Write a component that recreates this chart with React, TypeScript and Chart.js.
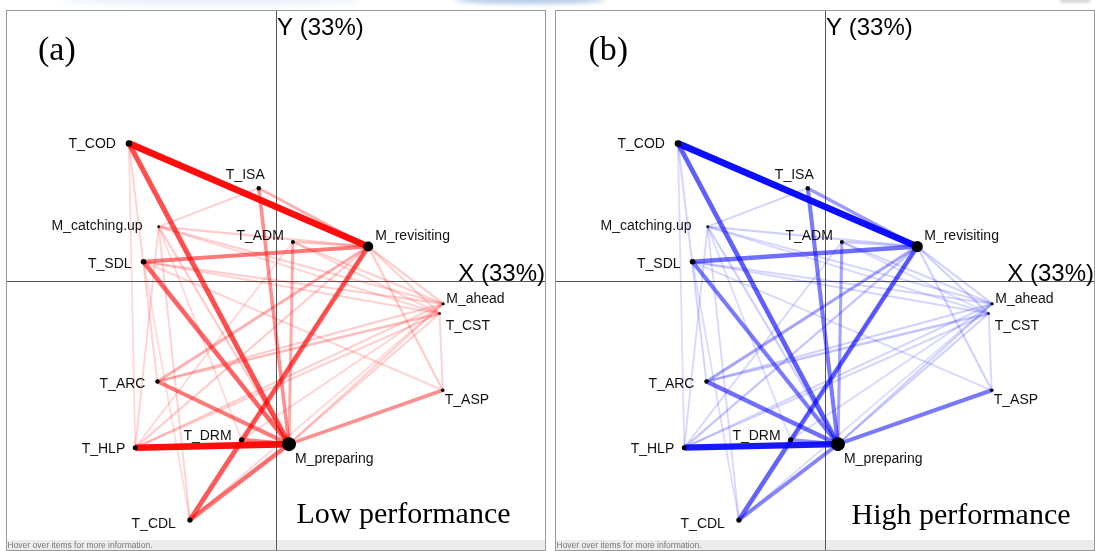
import React, { useEffect, useRef } from "react";
import { Chart, registerables } from "chart.js";

Chart.register(...registerables);

// ---------- DATA ----------
const nodeNames = [
  "T_COD", "T_ISA", "M_catching.up", "T_ADM", "M_revisiting", "T_SDL", "M_ahead",
  "T_CST", "T_ARC", "T_ASP", "T_DRM", "M_preparing", "T_HLP", "T_CDL",
];
const nodeX = [-1.505, -0.172, -1.2, 0.178, 0.952, -1.355, 1.722, 1.685, -1.212, 1.717, -0.348, 0.138, -1.44, -0.879];
const nodeY = [1.41, 0.95, 0.557, 0.4, 0.353, 0.197, -0.233, -0.333, -1.03, -1.12, -1.627, -1.672, -1.708, -2.45];
const nodeWeightLow = [3.2, 2.2, 1.3, 2, 5, 2.8, 1.5, 1.3, 2.2, 1.8, 2.6, 7, 2.5, 2.6];
const nodeWeightHigh = [3.2, 2.2, 1.3, 2, 5.6, 2.8, 1.5, 1.3, 2.2, 1.8, 2.6, 7, 2.5, 2.6];

const edgeFrom = [
  "T_COD", "T_HLP", "T_COD", "M_revisiting", "T_SDL", "T_DRM", "T_SDL", "T_CDL", "T_ARC", "T_ASP",
  "T_ISA", "T_ISA", "T_ADM", "T_ADM", "T_ARC", "T_ARC", "T_ARC", "M_catching.up", "M_catching.up", "M_catching.up",
  "M_catching.up", "M_catching.up", "M_catching.up", "M_catching.up", "M_catching.up", "T_COD", "T_COD", "T_SDL", "T_SDL", "T_SDL",
  "T_SDL", "T_ADM", "T_ADM", "M_revisiting", "M_revisiting", "M_revisiting", "M_revisiting", "M_revisiting", "T_HLP", "T_HLP",
  "T_HLP", "T_DRM", "M_preparing", "M_preparing", "T_CDL", "T_ASP",
];
const edgeTo = [
  "M_revisiting", "M_preparing", "M_preparing", "T_CDL", "M_preparing", "M_preparing", "M_revisiting", "M_preparing", "M_preparing", "M_preparing",
  "M_preparing", "M_revisiting", "M_preparing", "M_revisiting", "M_revisiting", "T_CST", "M_ahead", "T_ISA", "M_revisiting", "M_ahead",
  "T_CST", "M_preparing", "T_HLP", "T_CDL", "T_DRM", "T_ARC", "T_HLP", "M_ahead", "T_CST", "T_ASP",
  "T_CDL", "M_ahead", "T_CST", "M_ahead", "T_CST", "T_ASP", "T_HLP", "T_DRM", "M_ahead", "T_CST",
  "T_ADM", "M_ahead", "M_ahead", "T_CST", "M_ahead", "T_CST",
];
const edgeWeightLow = [
  1.0, 1.0, 0.7, 0.65, 0.6, 0.5, 0.5, 0.55, 0.5, 0.4,
  0.4, 0.25, 0.28, 0.15, 0.25, 0.18, 0.12, 0.1, 0.12, 0.1,
  0.08, 0.12, 0.08, 0.08, 0.06, 0.08, 0.06, 0.12, 0.1, 0.08,
  0.05, 0.1, 0.08, 0.12, 0.1, 0.12, 0.12, 0.1, 0.1, 0.1,
  0.06, 0.08, 0.1, 0.1, 0.06, 0.08,
];
const edgeWeightHigh = [
  1.0, 0.95, 0.62, 0.6, 0.5, 0.4, 0.55, 0.45, 0.55, 0.5,
  0.5, 0.35, 0.3, 0.12, 0.3, 0.15, 0.1, 0.08, 0.1, 0.08,
  0.06, 0.1, 0.06, 0.06, 0.05, 0.08, 0.05, 0.08, 0.08, 0.06,
  0.05, 0.08, 0.06, 0.1, 0.1, 0.1, 0.15, 0.1, 0.08, 0.08,
  0.06, 0.06, 0.1, 0.1, 0.05, 0.06,
];

const axisLabelX = "X (33%)";
const axisLabelY = "Y (33%)";
const hoverText = "Hover over items for more information.";

// ---------- STYLE ----------
const W = 540;
const H = 541;
const SANS = '"Liberation Sans", Arial, Helvetica, sans-serif';
const SERIF = '"Liberation Serif", "Times New Roman", serif';

const labelPlacement: Record<string, { align: CanvasTextAlign; dx: number; dy: number }> = {
  "T_COD": { align: "right", dx: -13, dy: 5 },
  "T_ISA": { align: "right", dx: 6, dy: -9 },
  "M_catching.up": { align: "right", dx: -16, dy: 3 },
  "T_ADM": { align: "right", dx: -9, dy: -2 },
  "M_revisiting": { align: "left", dx: 7, dy: -7 },
  "T_SDL": { align: "right", dx: -12, dy: 6 },
  "M_ahead": { align: "left", dx: 3, dy: -1 },
  "T_CST": { align: "left", dx: 6, dy: 17 },
  "T_ARC": { align: "right", dx: -12, dy: 6 },
  "T_ASP": { align: "left", dx: 2, dy: 14 },
  "T_DRM": { align: "right", dx: -10, dy: 0 },
  "M_preparing": { align: "left", dx: 6, dy: 19 },
  "T_HLP": { align: "right", dx: -10, dy: 5 },
  "T_CDL": { align: "right", dx: -14, dy: 8 },
};

type PanelCfg = {
  tag: string;
  tagX: number;
  title: string;
  titleX: number;
  titleY: number;
  rgb: string;
  edgeWeights: number[];
  nodeWeights: number[];
};

function idx(name: string) {
  return nodeNames.indexOf(name);
}

function buildChart(canvas: HTMLCanvasElement, cfg: PanelCfg) {
  const edges = edgeFrom.map((f, i) => ({ f, t: edgeTo[i], w: cfg.edgeWeights[i] }));
  // heaviest first -> drawn on top (Chart.js draws first dataset last)
  edges.sort((a, b) => b.w - a.w);

  const edgeSets = edges.map((e) => {
    const a = idx(e.f);
    const b = idx(e.t);
    return {
      type: "scatter" as const,
      data: [
        { x: nodeX[a], y: nodeY[a] },
        { x: nodeX[b], y: nodeY[b] },
      ],
      showLine: true,
      borderColor: `rgba(${cfg.rgb},${(0.1 + 0.85 * e.w).toFixed(3)})`,
      borderWidth: 1.6 + 5 * e.w,
      borderCapStyle: "butt" as const,
      pointRadius: 0,
      pointHoverRadius: 0,
      fill: false,
    };
  });

  const nodeSet = {
    type: "scatter" as const,
    data: nodeNames.map((_, i) => ({ x: nodeX[i], y: nodeY[i] })),
    pointRadius: cfg.nodeWeights,
    pointHoverRadius: cfg.nodeWeights,
    pointBackgroundColor: "#000",
    pointBorderWidth: 0,
    showLine: false,
  };

  const overlay = {
    id: "enaOverlay",
    beforeDatasetsDraw(chart: any) {
      const { ctx, scales } = chart;
      ctx.save();
      // hover band
      ctx.fillStyle = "#ececec";
      ctx.fillRect(0, H - 11, W, 11);
      ctx.fillStyle = "#777";
      ctx.font = `8.5px ${SANS}`;
      ctx.textAlign = "left";
      ctx.textBaseline = "alphabetic";
      ctx.fillText(hoverText, 1.5, H - 3);
      // axes
      const x0 = Math.round(scales.x.getPixelForValue(0)) + 0.5;
      const y0 = Math.round(scales.y.getPixelForValue(0)) + 0.5;
      ctx.strokeStyle = "#555";
      ctx.lineWidth = 1;
      ctx.beginPath();
      ctx.moveTo(x0, 0);
      ctx.lineTo(x0, H);
      ctx.moveTo(0, y0);
      ctx.lineTo(W, y0);
      ctx.stroke();
      ctx.restore();
    },
    afterDatasetsDraw(chart: any) {
      const { ctx, scales } = chart;
      ctx.save();
      ctx.fillStyle = "#111";
      ctx.font = `14px ${SANS}`;
      ctx.textBaseline = "alphabetic";
      nodeNames.forEach((n, i) => {
        const p = labelPlacement[n];
        const px = scales.x.getPixelForValue(nodeX[i]);
        const py = scales.y.getPixelForValue(nodeY[i]);
        ctx.textAlign = p.align;
        ctx.fillText(n, px + p.dx, py + p.dy);
      });
      const x0 = scales.x.getPixelForValue(0);
      const y0 = scales.y.getPixelForValue(0);
      ctx.fillStyle = "#000";
      ctx.font = `24px ${SANS}`;
      ctx.textAlign = "left";
      ctx.fillText(axisLabelY, x0 + 1.5, 25);
      ctx.textAlign = "right";
      ctx.fillText(axisLabelX, W - 1, y0 + 0.5);
      ctx.font = `34px ${SERIF}`;
      ctx.textAlign = "left";
      ctx.fillText(cfg.tag, cfg.tagX, 50);
      ctx.font = `30px ${SERIF}`;
      ctx.fillText(cfg.title, cfg.titleX, cfg.titleY);
      // frame
      ctx.strokeStyle = "#9a9a9a";
      ctx.lineWidth = 1;
      ctx.strokeRect(0.5, 0.5, W - 1, H - 1);
      ctx.restore();
    },
  };

  return new Chart(canvas, {
    type: "scatter",
    data: { datasets: [nodeSet as any, ...(edgeSets as any[])] },
    options: {
      animation: false,
      responsive: false,
      devicePixelRatio: 1,
      events: [],
      layout: { padding: 0 },
      plugins: { legend: { display: false }, tooltip: { enabled: false } },
      scales: {
        x: { type: "linear", min: -2.695, max: 2.705, display: false },
        y: { type: "linear", min: -2.695, max: 2.705, display: false },
      },
    },
    plugins: [overlay],
  });
}

function Panel({ cfg, left }: { cfg: PanelCfg; left: number }) {
  const ref = useRef<HTMLCanvasElement | null>(null);
  useEffect(() => {
    if (!ref.current) return;
    const chart = buildChart(ref.current, cfg);
    return () => chart.destroy();
  }, []);
  return (
    <canvas
      ref={ref}
      width={W}
      height={H}
      style={{ position: "absolute", left, top: 10, width: W, height: H }}
    />
  );
}

const lowCfg: PanelCfg = {
  tag: "(a)",
  tagX: 32,
  title: "Low performance",
  titleX: 290.5,
  titleY: 513,
  rgb: "255,0,0",
  edgeWeights: edgeWeightLow,
  nodeWeights: nodeWeightLow,
};
const highCfg: PanelCfg = {
  tag: "(b)",
  tagX: 33.5,
  title: "High performance",
  titleX: 296.5,
  titleY: 514,
  rgb: "0,0,255",
  edgeWeights: edgeWeightHigh,
  nodeWeights: nodeWeightHigh,
};

export default function App() {
  return (
    <div
      style={{
        position: "absolute",
        left: 0,
        top: 0,
        width: 1095,
        height: 551,
        background: "#fff",
        overflow: "hidden",
      }}
    >
      <div
        style={{
          position: "absolute",
          left: 60,
          top: -4,
          width: 300,
          height: 9,
          borderRadius: "50%",
          background: "rgba(190,210,235,0.35)",
          filter: "blur(3px)",
        }}
      />
      <div
        style={{
          position: "absolute",
          left: 455,
          top: -3,
          width: 150,
          height: 7,
          borderRadius: "50%",
          background: "rgba(120,160,210,0.55)",
          filter: "blur(2px)",
        }}
      />
      <div
        style={{
          position: "absolute",
          left: 1060,
          top: -2,
          width: 30,
          height: 5,
          background: "rgba(150,150,150,0.35)",
          filter: "blur(1px)",
        }}
      />
      <Panel cfg={lowCfg} left={6} />
      <Panel cfg={highCfg} left={555} />
    </div>
  );
}
